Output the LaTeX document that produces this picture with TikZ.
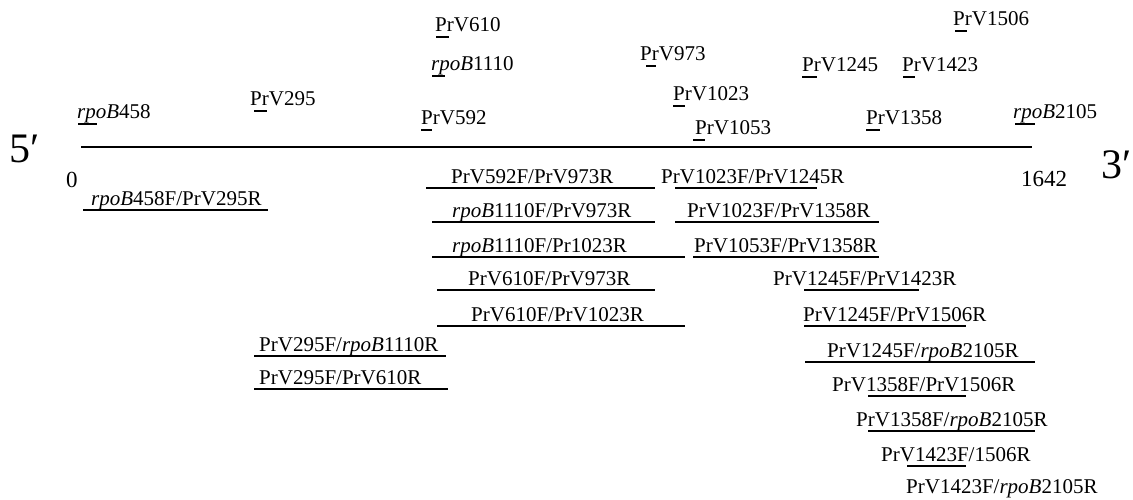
\documentclass[tikz,border=0pt]{standalone}
\usepackage{fontspec}
\setmainfont{Liberation Serif}
\newcommand\toplab[6]{%
  \node[lab] (#1) at (#2,#3) {#4};
  \draw[ul] (#5,#3+6) -- (#6,#3+6);}
\newcommand\seglab[6]{%
  \node[lab] (#1) at (#2,#3-5) {#4};
  \draw[seg] (#5,#3) -- (#6,#3);}
\begin{document}
\begin{tikzpicture}[x=1pt,y=-1pt,
  lab/.style={anchor=base west,inner sep=0pt,font=\fontsize{21}{24}\selectfont},
  num/.style={anchor=base west,inner sep=0pt,font=\fontsize{23}{26}\selectfont},
  big/.style={anchor=base west,inner sep=0pt,font=\fontsize{42}{48}\selectfont},
  seg/.style={line width=1.8pt},
  ul/.style={line width=1.6pt},
  main/.style={line width=2.2pt}]
\useasboundingbox (0,0) rectangle (1133,499);
% main sequence line
\coordinate (L) at (81,147);
\coordinate (R) at (1032,147);
\draw[main] (L) -- (R);
\node[big] (five) at (9,162) {5′};
\node[big] (three) at (1101,178) {3′};
\node[num] (zero) at (66,187) {0};
\node[num] (end) at (1021,186) {1642};
% primer labels above the line
\toplab{p458}{77}{118}{\textit{rpoB}458}{78}{97}
\toplab{p295}{250}{105}{PrV295}{254}{267}
\toplab{p592}{421}{124}{PrV592}{421}{432}
\toplab{p610}{435}{31}{PrV610}{436}{449}
\toplab{p1110}{431}{70}{\textit{rpoB}1110}{432}{445}
\toplab{p973}{640}{60}{PrV973}{646}{656}
\toplab{p1023}{673}{100}{PrV1023}{673}{685}
\toplab{p1053}{695}{134}{PrV1053}{693}{705}
\toplab{p1245}{802}{71}{PrV1245}{802}{817}
\toplab{p1423}{902}{71}{PrV1423}{903}{915}
\toplab{p1506}{953}{25}{PrV1506}{955}{967}
\toplab{p1358}{866}{124}{PrV1358}{866}{880}
\toplab{p2105}{1013}{118}{\textit{rpoB}2105}{1015}{1035}
% amplicons
\seglab{a1}{91}{210}{\textit{rpoB}458F/PrV295R}{83}{268}
\seglab{a2}{451}{188}{PrV592F/PrV973R}{426}{655}
\seglab{a3}{452}{222}{\textit{rpoB}1110F/PrV973R}{432}{655}
\seglab{a4}{452}{257}{\textit{rpoB}1110F/Pr1023R}{432}{685}
\seglab{a5}{468}{290}{PrV610F/PrV973R}{437}{655}
\seglab{a6}{471}{326}{PrV610F/PrV1023R}{437}{685}
\seglab{a7}{259}{356}{PrV295F/\textit{rpoB}1110R}{254}{446}
\seglab{a8}{259}{389}{PrV295F/PrV610R}{254}{448}
\seglab{a9}{661}{188}{PrV1023F/PrV1245R}{675}{817}
\seglab{a10}{687}{222}{PrV1023F/PrV1358R}{675}{879}
\seglab{a11}{694}{257}{PrV1053F/PrV1358R}{693}{879}
\seglab{a12}{773}{290}{PrV1245F/PrV1423R}{804}{919}
\seglab{a13}{803}{326}{PrV1245F/PrV1506R}{804}{966}
\seglab{a14}{827}{362}{PrV1245F/\textit{rpoB}2105R}{805}{1035}
\seglab{a15}{832}{396}{PrV1358F/PrV1506R}{868}{966}
\seglab{a16}{856}{431}{PrV1358F/\textit{rpoB}2105R}{868}{1035}
\seglab{a17}{881}{466}{PrV1423F/1506R}{907}{966}
\node[lab] (a18) at (906,493) {PrV1423F/\textit{rpoB}2105R};
\end{tikzpicture}
\end{document}
